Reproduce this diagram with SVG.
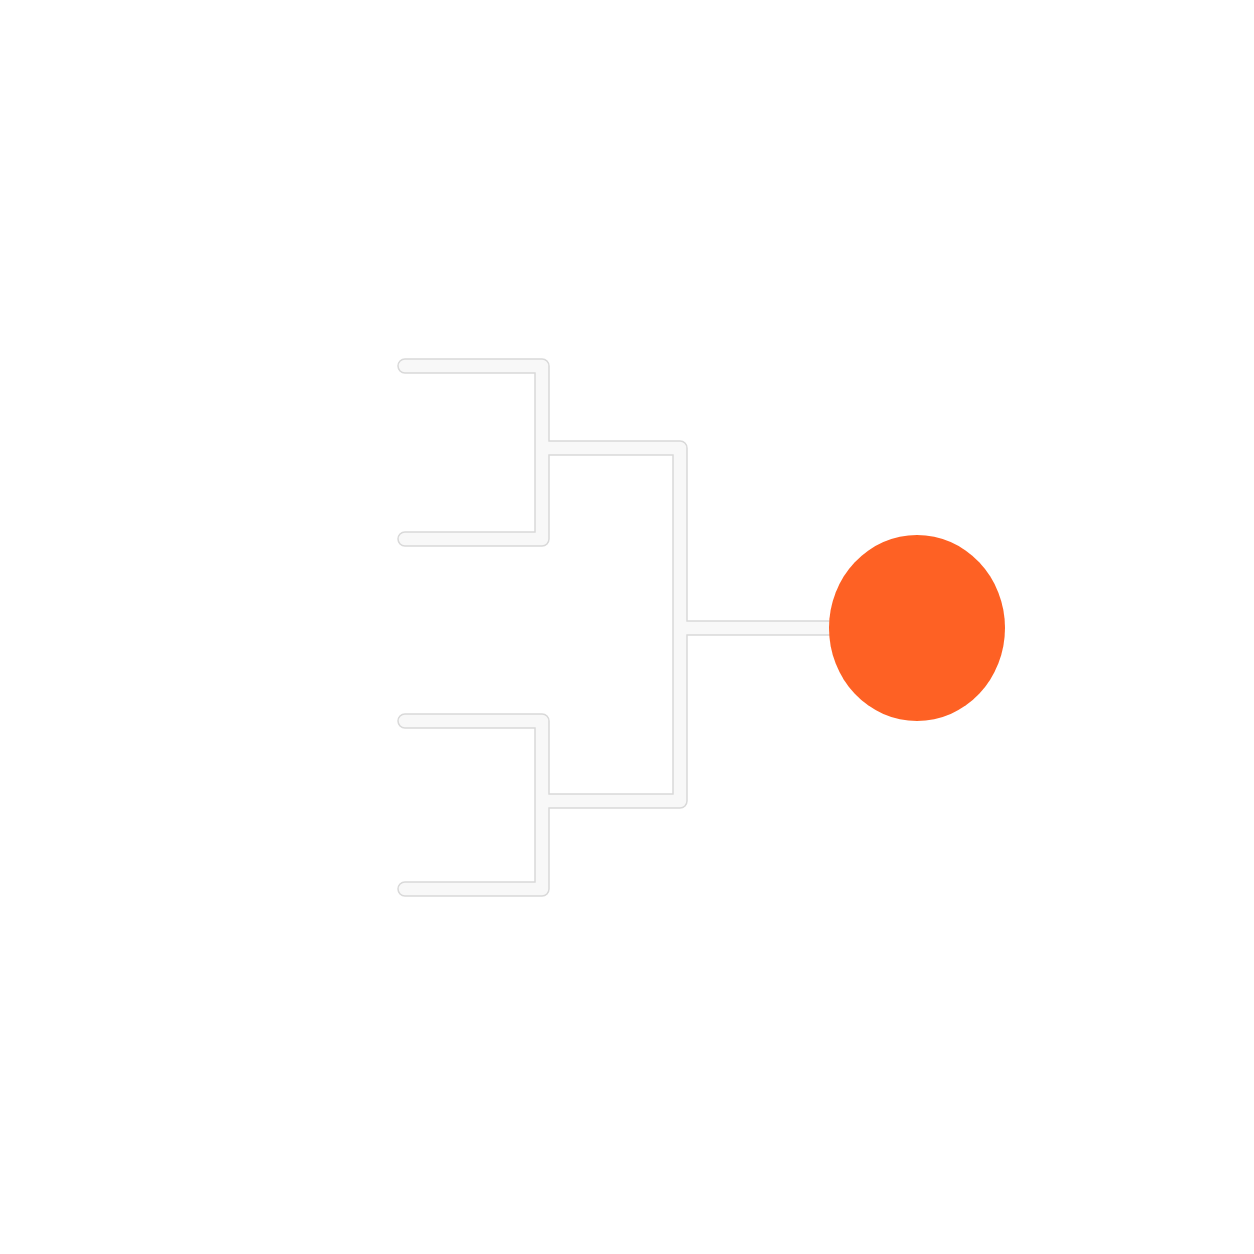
<svg xmlns="http://www.w3.org/2000/svg" width="1254" height="1254" viewBox="0 0 1254 1254">
<style>
.edge-o{fill:none;stroke:#d9d9d9;stroke-width:15.5;stroke-linecap:round;stroke-linejoin:round}
.edge-i{fill:none;stroke:#f8f8f8;stroke-width:12.5;stroke-linecap:round;stroke-linejoin:round}
</style>
<defs>
<path id="b" d="M405,366 H542 V539 H405 M405,721 H542 V889 H405 M542,448 H680 V801 H542 M680,628 H840"/>
</defs>
<rect width="1254" height="1254" fill="#ffffff"/>
<g id="connectors">
<use href="#b" class="edge-o"/>
<use href="#b" class="edge-i"/>
</g>
<g id="winner">
<ellipse cx="917" cy="628" rx="88" ry="93" fill="#fe6124"/>
</g>
</svg>
